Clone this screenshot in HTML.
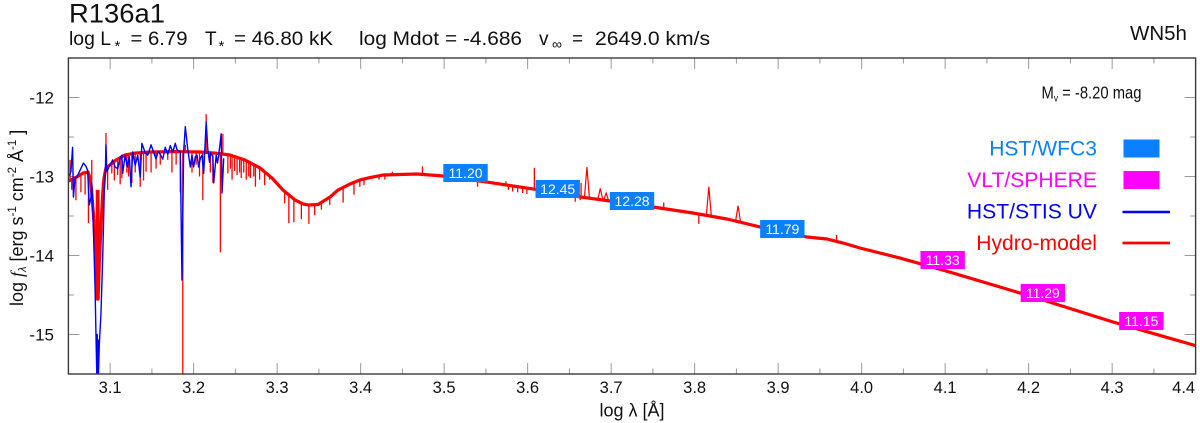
<!DOCTYPE html>
<html lang="en">
<head>
<meta charset="utf-8">
<title>R136a1 spectral energy distribution</title>
<style>
html,body{margin:0;padding:0;background:#fff;width:1200px;height:423px;overflow:hidden}
svg{display:block}
text{font-family:"Liberation Sans",sans-serif;fill:#111}
</style>
</head>
<body>
<svg id="chart" xmlns="http://www.w3.org/2000/svg" width="1200" height="423" viewBox="0 0 1200 423">
  <defs><clipPath id="plot-clip"><rect x="68.4" y="58" width="1127.2" height="316"/></clipPath></defs>
  <text x="69" y="22.7" font-size="26.5" textLength="96" lengthAdjust="spacingAndGlyphs">R136a1</text>
  <g font-size="19">
    <text x="69" y="45" textLength="42" lengthAdjust="spacingAndGlyphs">log L</text>
    <text x="114.5" y="51" font-size="15">*</text>
    <text x="130.5" y="45" textLength="57" lengthAdjust="spacingAndGlyphs">= 6.79</text>
    <text x="205" y="45">T</text>
    <text x="218.5" y="51" font-size="15">*</text>
    <text x="234" y="45" textLength="99" lengthAdjust="spacingAndGlyphs">= 46.80 kK</text>
    <text x="359" y="45" textLength="80" lengthAdjust="spacingAndGlyphs">log Mdot</text>
    <text x="445" y="45" textLength="77" lengthAdjust="spacingAndGlyphs">= -4.686</text>
    <text x="539" y="45">v</text>
    <text x="552" y="49" font-size="14" fill="#333">∞</text>
    <text x="572" y="45">=</text>
    <text x="595" y="45" textLength="115" lengthAdjust="spacingAndGlyphs">2649.0 km/s</text>
  </g>
  <text x="1130" y="40" font-size="20.5">WN5h</text>
  <g id="ticks"></g>
  <g id="series" clip-path="url(#plot-clip)"></g>
  <rect x="68.4" y="58" width="1127.2" height="316" fill="none" stroke="#3a3a3a" stroke-width="1.4"/>
  <g id="labels"></g>
  <g id="filters"></g>
  <text x="632" y="416.5" font-size="18" text-anchor="middle">log λ [Å]</text>
  <text transform="translate(23,306) rotate(-90)" font-size="18">log <tspan font-style="italic" font-family="Liberation Serif">f</tspan><tspan font-size="11" dy="3" font-style="italic">λ</tspan><tspan dy="-3"> [erg s</tspan><tspan font-size="11.5" dy="-7">-1</tspan><tspan dy="7">  cm</tspan><tspan font-size="11.5" dy="-7">-2</tspan><tspan dy="7">  Å</tspan><tspan font-size="11.5" dy="-7">-1</tspan><tspan dy="7"> ]</tspan></text>
  <text x="1041.5" y="98.3" font-size="17.5" textLength="100" lengthAdjust="spacingAndGlyphs">M<tspan font-size="10" dy="3">v</tspan><tspan dy="-3"> = -8.20 mag</tspan></text>
  <g font-size="21.1" text-anchor="end">
    <text x="1097" y="155.5" style="fill:#0a80ff">HST/WFC3</text>
    <rect x="1123.5" y="139.5" width="36" height="18" fill="#0a80ff"/>
    <text x="1097" y="187" style="fill:#ff00ff">VLT/SPHERE</text>
    <rect x="1123.5" y="171" width="36" height="18" fill="#ff00ff"/>
    <text x="1097" y="218.7" style="fill:#0000ff">HST/STIS UV</text>
    <line x1="1122.5" x2="1170" y1="212" y2="212" stroke="#0000ff" stroke-width="2.6"/>
    <text x="1097" y="250" style="fill:#ff0000">Hydro-model</text>
    <line x1="1122.5" x2="1170" y1="243" y2="243" stroke="#ff0000" stroke-width="2.8"/>
  </g>
</svg>
<script>
const xMajorTicks = [3.1, 3.2, 3.3, 3.4, 3.5, 3.6, 3.7, 3.8, 3.9, 4.0, 4.1, 4.2, 4.3, 4.4];
const xTickLabels = ["3.1", "3.2", "3.3", "3.4", "3.5", "3.6", "3.7", "3.8", "3.9", "4.0", "4.1", "4.2", "4.3", "4.4"];
const xMinorTicks = [3.15, 3.25, 3.35, 3.45, 3.55, 3.65, 3.75, 3.85, 3.95, 4.05, 4.15, 4.25, 4.35];
const yMajorTicks = [-12, -13, -14, -15];
const yTickLabels = ["-12", "-13", "-14", "-15"];
const yMinorTicks = [-12.5, -13.5, -14.5];

const modelWave = [3.05, 3.058, 3.0676, 3.0735, 3.0759, 3.0777, 3.0808, 3.0825, 3.0846, 3.0856, 3.087, 3.0892, 3.0914, 3.0926, 3.095, 3.0998, 3.107, 3.1178, 3.1298, 3.1477, 3.1777, 3.2076, 3.2256, 3.2435, 3.2615, 3.2795, 3.2938, 3.307, 3.3214, 3.331, 3.3381, 3.3489, 3.3633, 3.3729, 3.3872, 3.3992, 3.4112, 3.4268, 3.4675, 3.4986, 3.5513, 3.6064, 3.6627, 3.6986, 3.7501, 3.7979, 3.8387, 3.8783, 3.9345, 3.9585, 3.9777, 3.998, 4.0459, 4.0974, 4.1657, 4.2172, 4.301, 4.4016];
const modelFlux = [-13.057, -13.019, -12.956, -12.943, -13.019, -13.171, -13.59, -14.08, -14.551, -14.551, -14.08, -13.59, -13.171, -13.019, -12.892, -12.854, -12.791, -12.728, -12.703, -12.69, -12.684, -12.69, -12.703, -12.728, -12.791, -12.892, -13.019, -13.171, -13.297, -13.348, -13.361, -13.354, -13.26, -13.171, -13.095, -13.044, -13.013, -12.981, -12.968, -12.994, -13.07, -13.158, -13.259, -13.31, -13.386, -13.462, -13.538, -13.639, -13.766, -13.791, -13.842, -13.905, -14.032, -14.184, -14.399, -14.563, -14.842, -15.146];

const narrowLineWave = [3.052, 3.054, 3.059, 3.065, 3.07, 3.074, 3.078, 3.0835, 3.0845, 3.0855, 3.0865, 3.095, 3.097, 3.102, 3.105, 3.109, 3.112, 3.114, 3.12, 3.122, 3.126, 3.13, 3.136, 3.14, 3.143, 3.149, 3.155, 3.16, 3.169, 3.174, 3.179, 3.184, 3.187, 3.19, 3.198, 3.203, 3.207, 3.211, 3.215, 3.22, 3.223, 3.232, 3.235, 3.241, 3.244, 3.246, 3.249, 3.252, 3.255, 3.257, 3.26, 3.263, 3.266, 3.268, 3.272, 3.274, 3.279, 3.285, 3.291, 3.309, 3.314, 3.32, 3.329, 3.338, 3.345, 3.353, 3.363, 3.379, 3.392, 3.399, 3.404, 3.422, 3.429, 3.438, 3.474, 3.54, 3.574, 3.577, 3.582, 3.588, 3.594, 3.599, 3.608, 3.657, 3.663, 3.664, 3.763, 3.805, 3.97];
const narrowLineFlux = [-12.79, -13.17, -13.30, -13.20, -13.23, -13.59, -12.79, -13.17, -13.17, -13.17, -13.17, -12.45, -13.17, -12.96, -13.05, -12.98, -13.1, -13.02, -12.95, -13.0, -13.08, -12.95, -13.13, -13.05, -12.94, -12.95, -12.9, -12.85, -12.79, -12.95, -12.85, -13.2, -15.6, -12.6, -12.95, -12.85, -13.0, -13.3, -12.21, -12.95, -13.08, -13.96, -12.46, -12.96, -12.9, -13.04, -12.93, -12.98, -12.95, -13.02, -12.95, -13.04, -13.0, -13.02, -13.0, -13.13, -13.04, -13.11, -13.04, -13.34, -13.59, -13.58, -13.54, -13.60, -13.49, -13.42, -13.36, -13.33, -13.23, -13.13, -13.11, -13.04, -13.04, -12.94, -12.87, -13.13, -13.06, -13.17, -13.19, -13.2, -13.21, -13.22, -12.89, -13.32, -13.30, -13.08, -13.33, -13.60, -13.74];

const broadLineWave = [3.671, 3.687, 3.694, 3.817, 3.852];
const broadLineFlux = [-12.88, -13.15, -13.21, -13.13, -13.37];

const stisWave = [3.051, 3.053, 3.055, 3.056, 3.058, 3.06, 3.064, 3.068, 3.071, 3.073, 3.075, 3.077, 3.078, 3.08, 3.082, 3.083, 3.084, 3.0845, 3.085, 3.0855, 3.086, 3.087, 3.089, 3.091, 3.093, 3.094, 3.095, 3.096, 3.1, 3.103, 3.106, 3.109, 3.112, 3.114, 3.115, 3.118, 3.1205, 3.123, 3.125, 3.127, 3.13, 3.133, 3.136, 3.138, 3.142, 3.145, 3.149, 3.151, 3.155, 3.1575, 3.16, 3.163, 3.166, 3.169, 3.172, 3.175, 3.178, 3.18, 3.184, 3.186, 3.188, 3.19, 3.193, 3.196, 3.198, 3.2, 3.202, 3.204, 3.206, 3.208, 3.21, 3.212, 3.215, 3.217, 3.219, 3.22, 3.223, 3.224, 3.227, 3.2285, 3.23, 3.233, 3.234, 3.236];
const stisFlux = [-12.99, -12.94, -12.63, -13.26, -13.02, -13.01, -12.92, -12.83, -12.87, -12.92, -13.36, -13.27, -13.08, -13.68, -14.44, -15.0, -15.5, -15.0, -15.5, -15.07, -15.5, -15.13, -14.73, -14.06, -13.17, -13.04, -12.6, -12.94, -12.85, -12.79, -12.88, -12.9, -12.77, -12.73, -12.96, -12.73, -12.88, -12.75, -13.13, -12.69, -12.86, -12.73, -13.01, -12.58, -12.70, -12.73, -12.60, -12.66, -12.78, -12.68, -12.72, -12.78, -12.63, -12.72, -12.61, -12.69, -12.58, -12.66, -12.69, -14.31, -12.69, -12.37, -12.66, -12.88, -12.73, -12.88, -12.75, -12.73, -12.88, -12.77, -12.73, -12.96, -12.31, -12.66, -12.82, -12.70, -12.75, -13.08, -12.73, -12.83, -12.73, -12.46, -13.21, -12.77];

const filterWave = [3.5256, 3.636, 3.725, 3.905, 4.097, 4.217, 4.335];
const filterFlux = [-12.956, -13.158, -13.31, -13.665, -14.057, -14.475, -14.829];
const filterMagnitude = ["11.20", "12.45", "12.28", "11.79", "11.33", "11.29", "11.15"];
const filterInstrument = ["wfc3", "wfc3", "wfc3", "wfc3", "sphere", "sphere", "sphere"];

const xScale = function (w) { return 68.4 + (w - 3.05) * 835; };
const yScale = function (f) { return 58 + (-11.5 - f) * 79; };
const NS = "http://www.w3.org/2000/svg";
const ticksGroup = document.getElementById("ticks");
const labelsGroup = document.getElementById("labels");
const seriesGroup = document.getElementById("series");
const filtersGroup = document.getElementById("filters");

function continuumAt(w) {
  for (let i = 1; i < modelWave.length; i++) {
    if (w <= modelWave[i]) {
      const t = (w - modelWave[i - 1]) / (modelWave[i] - modelWave[i - 1]);
      return modelFlux[i - 1] + t * (modelFlux[i] - modelFlux[i - 1]);
    }
  }
  return modelFlux[modelFlux.length - 1];
}

function tickLine(x1, y1, x2, y2) {
  const el = document.createElementNS(NS, "line");
  
  
  el.setAttribute("x1", x1);
  el.setAttribute("y1", y1);
  el.setAttribute("x2", x2);
  el.setAttribute("y2", y2);
  el.setAttribute("stroke", "#9a9a9a");
  el.setAttribute("stroke-width", "1");
  ticksGroup.appendChild(el);
}

function drawXTick(w, len) {
  const x = xScale(w);
  tickLine(x, 374, x, 374 - len);
  tickLine(x, 58, x, 58 + len);
}

function drawYTick(f, len) {
  const y = yScale(f);
  tickLine(68.4, y, 68.4 + len, y);
  tickLine(1195.6, y, 1195.6 - len, y);
}

xMajorTicks.forEach(function (w) { drawXTick(w, 11); });
xMinorTicks.forEach(function (w) { drawXTick(w, 5.5); });
yMajorTicks.forEach(function (f) { drawYTick(f, 11); });
yMinorTicks.forEach(function (f) { drawYTick(f, 5.5); });

xMajorTicks.forEach(function (w, i) {
  const el = document.createElementNS(NS, "text");
  
  
  el.setAttribute("x", w === 4.4 ? xScale(w) - 12 : xScale(w));
  el.setAttribute("y", 393);
  el.setAttribute("font-size", "16.5");
  el.setAttribute("text-anchor", "middle");
  el.textContent = xTickLabels[i];
  labelsGroup.appendChild(el);
});

yMajorTicks.forEach(function (f, i) {
  const el = document.createElementNS(NS, "text");
  
  
  el.setAttribute("x", 54);
  el.setAttribute("y", yScale(f) + 6);
  el.setAttribute("font-size", "17");
  el.setAttribute("text-anchor", "end");
  el.textContent = yTickLabels[i];
  labelsGroup.appendChild(el);
});

function polyPoints(xs, ys) {
  return xs.map(function (w, i) {
    return xScale(w).toFixed(2) + "," + yScale(ys[i]).toFixed(2);
  }).join(" ");
}

narrowLineWave.forEach(function (w, i) {
  const el = document.createElementNS(NS, "line");
  
  
  el.setAttribute("x1", xScale(w));
  el.setAttribute("x2", xScale(w));
  el.setAttribute("y1", yScale(continuumAt(w)));
  el.setAttribute("y2", yScale(narrowLineFlux[i]));
  el.setAttribute("stroke", "#ff0000");
  el.setAttribute("stroke-width", "1.3");
  seriesGroup.appendChild(el);
});

broadLineWave.forEach(function (w, i) {
  const el = document.createElementNS(NS, "polyline");
  
  
  const halfWidth = 0.003;
  el.setAttribute("points", polyPoints(
    [w - halfWidth, w, w + halfWidth],
    [continuumAt(w - halfWidth), broadLineFlux[i], continuumAt(w + halfWidth)]
  ));
  el.setAttribute("fill", "none");
  el.setAttribute("stroke", "#ff0000");
  el.setAttribute("stroke-width", "1.2");
  seriesGroup.appendChild(el);
});

const modelLine = document.createElementNS(NS, "polyline");


modelLine.setAttribute("points", polyPoints(modelWave, modelFlux));
modelLine.setAttribute("fill", "none");
modelLine.setAttribute("stroke", "#ff0000");
modelLine.setAttribute("stroke-width", "3.2");
modelLine.setAttribute("stroke-linejoin", "round");
seriesGroup.appendChild(modelLine);

const stisLine = document.createElementNS(NS, "polyline");


stisLine.setAttribute("points", polyPoints(stisWave, stisFlux));
stisLine.setAttribute("fill", "none");
stisLine.setAttribute("stroke", "#0000ff");
stisLine.setAttribute("stroke-width", "1.4");
stisLine.setAttribute("stroke-linejoin", "round");
seriesGroup.appendChild(stisLine);

filterWave.forEach(function (w, i) {
  const cx = xScale(w);
  const cy = yScale(filterFlux[i]);
  const box = document.createElementNS(NS, "rect");
  
  
  box.setAttribute("x", cx - 22.2);
  box.setAttribute("y", cy - 9);
  box.setAttribute("width", 44.4);
  box.setAttribute("height", 18);
  box.setAttribute("fill", filterInstrument[i] === "wfc3" ? "#0a80ff" : "#ff00ff");
  filtersGroup.appendChild(box);
  const label = document.createElementNS(NS, "text");
  
  
  label.setAttribute("x", cx);
  label.setAttribute("y", cy + 5);
  label.setAttribute("font-size", "14");
  label.setAttribute("text-anchor", "middle");
  label.setAttribute("style", "fill:#fff");
  label.textContent = filterMagnitude[i];
  filtersGroup.appendChild(label);
});
</script>
</body>
</html>
